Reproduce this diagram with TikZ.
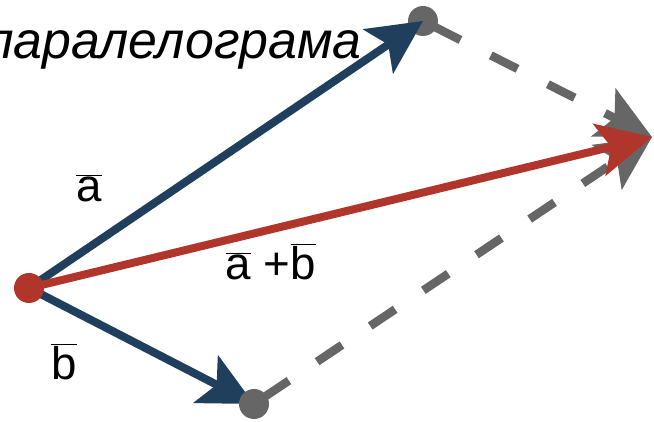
\documentclass[tikz,border=0pt]{standalone}
\usepackage{fontspec}
\setmainfont{Liberation Sans}
\usetikzlibrary{arrows.meta}

\definecolor{vecblue}{HTML}{1F3F5C}
\definecolor{vecred}{HTML}{B0362B}
\definecolor{vecgray}{HTML}{666666}
\newcommand{\vbar}[1]{\(\overline{\mbox{#1}}\)}

\begin{document}
\begin{tikzpicture}[x=0.02cm, y=-0.02cm,
    every node/.style={font=\fontsize{26pt}{30pt}\selectfont, inner sep=0pt},
    >={Stealth[length=1.08cm, width=1.06cm, inset=0.24cm]},
    vec/.style={->, line width=0.16cm},
    side/.style={->, line width=0.17cm, vecgray, dash pattern=on 0.6cm off 0.68cm, dash phase=1.04cm}]
  \useasboundingbox (0,0) rectangle (654,422);

  \node[anchor=base east, font=\fontsize{29.5pt}{34pt}\selectfont\itshape] (title)
    at (362,59) {паралелограма};

  \coordinate (O) at (29,288);
  \coordinate (A) at (423,21);
  \coordinate (B) at (254,404);
  \coordinate (C) at (652,137);

  \fill[vecgray] (A) circle[radius=15];
  \draw[side] (A) -- (C);
  \draw[side] (B) -- (C);

  \draw[vec, vecblue] (O) -- (A);
  \draw[vec, vecblue] (O) -- (B);
  \fill[vecgray] (B) circle[radius=15];

  \draw[vec, vecred] (O) -- (C);
  \fill[vecred] (O) circle[radius=15];

  \node[anchor=base] (a) at (89,202) {\vbar{a}};
  \node[anchor=base] (b) at (64,380) {\vbar{b}};
  \node[anchor=base] (sum) at (271,280) {\vbar{a} +\vbar{b}};
\end{tikzpicture}
\end{document}
